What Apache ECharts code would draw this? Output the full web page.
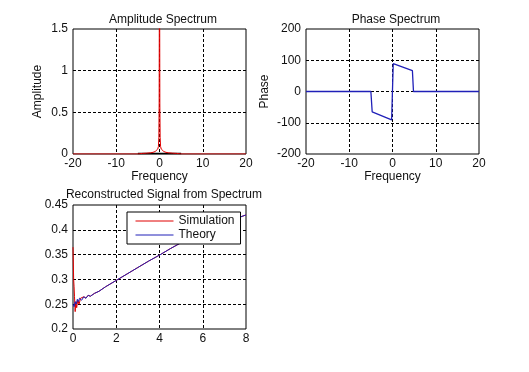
<!DOCTYPE html>
<html><head><meta charset="utf-8">
<script src="https://cdn.jsdelivr.net/npm/echarts@6/dist/echarts.min.js"></script>
<style>html,body{margin:0;padding:0;background:#fff}#c{width:529px;height:372px}</style>
</head><body><div id="c"></div>
<script>
// Amplitude spectrum
const ampFreq = [-20,-5,-4,-3,-2,-1.5,-1,-0.6,-0.4,-0.25,-0.15,-0.08,-0.04,0,0.04,0.08,0.15,0.25,0.4,0.6,1,1.5,2,3,4,5,20];
const ampSim  = [0,0,0.007,0.01,0.015,0.02,0.03,0.045,0.06,0.09,0.2,0.6,1.8,2.5,1.8,0.6,0.2,0.09,0.06,0.045,0.03,0.02,0.015,0.01,0.007,0,0];
const ampTheoryFreq = [-5,5];
const ampTheory = [0.005,0.005];
// Phase spectrum
const phaseFreq = [-20,-5,-4.7,-0.2,0.17,0.5,4.6,4.85,20];
const phase     = [0,0,-65,-91,89,86,67,0,0];
// Reconstructed signal
const simT = [0,0.03,0.05,0.07,0.1,0.13,0.17,0.22,0.28,0.35,0.4,0.5,0.6,0.7,0.8,1.0,1.2,1.5,2,2.5,3,3.5,4,4.5,5,5.5,6,6.5,7,7.5,8];
const simY = [0.365,0.30,0.285,0.265,0.235,0.255,0.243,0.258,0.25,0.262,0.258,0.265,0.262,0.268,0.266,0.272,0.276,0.285,0.298,0.311,0.324,0.337,0.349,0.362,0.374,0.385,0.395,0.405,0.414,0.422,0.43];
const thT = [0,0.05,0.1,0.15,0.2,0.25,0.3,0.4,0.5,0.6,0.7,0.8,1.0,1.2,1.5,2,2.5,3,3.5,4,4.5,5,5.5,6,6.5,7,7.5,8];
const thY = [0.25,0.245,0.255,0.25,0.26,0.255,0.262,0.258,0.265,0.262,0.268,0.266,0.272,0.276,0.285,0.298,0.311,0.324,0.337,0.349,0.362,0.374,0.385,0.395,0.405,0.414,0.422,0.43];
// Tick settings
const ampXTicks = {min:-20,max:20,interval:10};
const ampYTicks = {min:0,max:1.5,interval:0.5};
const phYTicks = {min:-200,max:200,interval:100};
const recXTicks = {min:0,max:8,interval:2};
const recYTicks = {min:0.2,max:0.45,interval:0.05};

const zip = (a,b)=>a.map((v,i)=>[v,b[i]]);
const FONT = 'Liberation Sans';
const BLUE = '#2020b8';
const RED = '#e00000';
const txt = {fontFamily:FONT,fontSize:12,color:'#111'};
const split = {show:true,showMinLine:false,showMaxLine:false,lineStyle:{color:'#000',type:[3,2],width:1}};
function xa(idx,t,name){return Object.assign({type:'value',gridIndex:idx,axisLine:{show:false,onZero:false},axisTick:{show:false},
  axisLabel:Object.assign({margin:4},txt),splitLine:split,name:name||'',nameLocation:'middle',nameGap:17,nameTextStyle:txt},t);}
function ya(idx,t,name,gap){return Object.assign({type:'value',gridIndex:idx,axisLine:{show:false,onZero:false},axisTick:{show:false},
  axisLabel:Object.assign({margin:5},txt),splitLine:split,name:name||'',nameLocation:'middle',nameGap:gap||30,nameTextStyle:txt},t);}
const gridBase = {show:true,borderColor:'#000',borderWidth:1,backgroundColor:'#fff'};
const chart = echarts.init(document.getElementById('c'),null,{renderer:'canvas'});
chart.setOption({
  animation:false,
  backgroundColor:'#fff',
  title:[
    {text:'Amplitude Spectrum',left:158,top:9,textAlign:'center',textStyle:Object.assign({fontWeight:'normal'},txt)},
    {text:'Phase Spectrum',left:391,top:9,textAlign:'center',textStyle:Object.assign({fontWeight:'normal'},txt)},
    {text:'Reconstructed Signal from Spectrum',left:159,top:184,textAlign:'center',textStyle:Object.assign({fontWeight:'normal'},txt)}
  ],
  grid:[
    Object.assign({left:73,top:29,width:173,height:125},gridBase),
    Object.assign({left:306,top:29,width:173,height:125},gridBase),
    Object.assign({left:73,top:205,width:173,height:124},gridBase)
  ],
  xAxis:[xa(0,ampXTicks,'Frequency'),xa(1,ampXTicks,'Frequency'),xa(2,recXTicks,'')],
  yAxis:[ya(0,ampYTicks,'Amplitude',29),ya(1,phYTicks,'Phase',35),ya(2,recYTicks,'',30)],
  legend:{orient:'vertical',left:127,top:212,data:['Simulation','Theory'],backgroundColor:'#fff',borderColor:'#000',borderWidth:1,
    padding:[3,6,3,8],itemWidth:38,itemHeight:14,itemGap:2,textStyle:txt,lineStyle:{width:1},itemStyle:{opacity:0}},
  series:[
    {type:'line',xAxisIndex:0,yAxisIndex:0,data:zip(ampTheoryFreq,ampTheory),symbol:'none',lineStyle:{color:'#000',width:1.5}},
    {type:'line',xAxisIndex:0,yAxisIndex:0,data:zip(ampFreq,ampSim),symbol:'none',lineStyle:{color:RED,width:1}},
    {type:'line',xAxisIndex:1,yAxisIndex:1,data:zip(phaseFreq,phase),symbol:'none',lineStyle:{color:BLUE,width:1.3}},
    {name:'Simulation',type:'line',xAxisIndex:2,yAxisIndex:2,data:zip(simT,simY),symbol:'none',color:RED,lineStyle:{color:RED,width:1}},
    {name:'Theory',type:'line',xAxisIndex:2,yAxisIndex:2,data:zip(thT,thY),symbol:'none',color:BLUE,lineStyle:{color:BLUE,width:1}}
  ]
});
</script></body></html>
